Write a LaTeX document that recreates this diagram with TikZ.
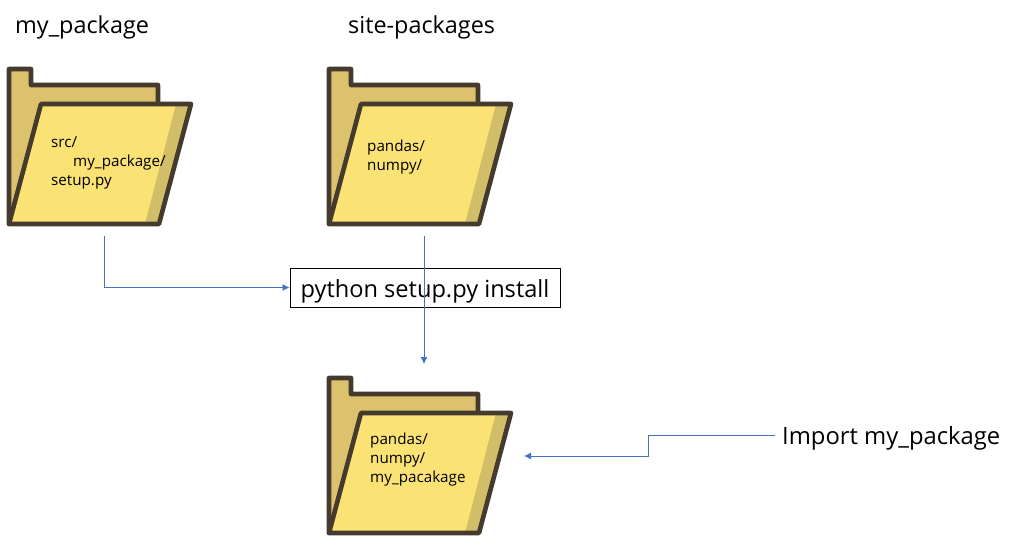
\documentclass[tikz,border=0pt]{standalone}
\usepackage{fontspec}
\setmainfont{Open Sans}
\usetikzlibrary{arrows.meta}
\definecolor{foldback}{HTML}{DCC26C}
\definecolor{foldfront}{HTML}{FAE274}
\definecolor{foldstrip}{HTML}{D2BE69}
\definecolor{foldline}{HTML}{443A2E}
\definecolor{conn}{HTML}{4472C4}
\tikzset{
  x=1pt,y=-1pt,
  foldstroke/.style={draw=foldline,line width=4.6pt,line join=round},
  heading/.style={font=\fontsize{23.4}{28}\selectfont,anchor=base west,inner sep=0pt},
  small/.style={font=\fontsize{15.2}{18}\selectfont,anchor=base west,inner sep=0pt},
  cmdbox/.style={draw=black,line width=1pt,fill=white,minimum width=270pt,minimum height=39pt,inner sep=0pt,text height=19pt,text depth=0pt,font=\fontsize{23.6}{28}\selectfont},
  lbl/.style={font=\fontsize{23.8}{28}\selectfont,anchor=west,inner sep=7pt,text height=18pt,text depth=0pt},
  link/.style={draw=conn,line width=0.8pt,-{Latex[length=7pt,width=7pt]}},
  pics/folder/.style={code={
    \path[fill=foldback,foldstroke] (0,0) -- (22,0) -- (22,16) -- (149,16) -- (149,60) -- (0,155) -- cycle;
    \path[fill=foldfront] (32,35) -- (182,35) -- (150,155) -- (0,155) -- cycle;
    \path[fill=foldstrip] (167,35) -- (182,35) -- (150,155) -- (136,155) -- cycle;
    \path[foldstroke] (32,35) -- (182,35) -- (150,155) -- (0,155) -- cycle;
  }}
}
\begin{document}
\begin{tikzpicture}
\useasboundingbox (0,0) rectangle (1014,544);
\pic at (9,69) {folder};
\pic at (329,69) {folder};
\pic at (329,378) {folder};
\node[heading] (h1) at (15,33) {my\_package};
\node[heading] (h2) at (348,33) {site-packages};
\node[small] (t1a) at (51,147) {src/};
\node[small] (t1b) at (73,166) {my\_package/};
\node[small] (t1c) at (51,185) {setup.py};
\node[small] (t2a) at (367,151) {pandas/};
\node[small] (t2b) at (367,170) {numpy/};
\node[small] (t3a) at (370,444) {pandas/};
\node[small] (t3b) at (370,463) {numpy/};
\node[small] (t3c) at (370,482) {my\_pacakage};
\node[cmdbox] (cmd) at (425,287.5) {python setup.py install};
\node[lbl] (imp) at (775,435) {Import my\_package};
\coordinate (s1) at (104,236);
\coordinate (s2) at (424,236);
\coordinate (e2) at (424,364);
\coordinate (e3) at (524,456);
\coordinate (m3) at (648,456);
\draw[link] (s1) |- (cmd.west);
\draw[link] (s2) -- (e2);
\draw[link] (imp.west) -| (m3) -- (e3);
\end{tikzpicture}
\end{document}
